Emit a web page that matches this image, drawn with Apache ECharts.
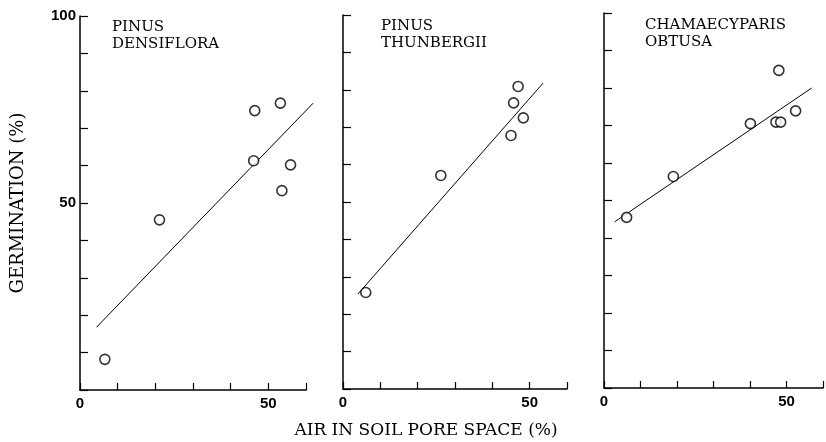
<!DOCTYPE html>
<html><head><meta charset="utf-8">
<script src="https://cdn.jsdelivr.net/npm/echarts@6/dist/echarts.min.js"></script>
<style>html,body{margin:0;padding:0;background:#fff}#c{width:826px;height:442px}</style>
</head><body><div id="c"></div>
<script>
const panelTitles = ['PINUS\nDENSIFLORA', 'PINUS\nTHUNBERGII', 'CHAMAECYPARIS\nOBTUSA'];
const densifloraX = [6.6, 21.1, 46.4, 46.1, 53.2, 53.6, 55.9];
const densifloraY = [8.2, 45.5, 74.7, 61.3, 76.7, 53.3, 60.2];
const densifloraFit = [[4.4, 16.8], [61.9, 76.7]];
const thunbergiiX = [6.1, 26.2, 45.0, 45.7, 46.9, 48.3];
const thunbergiiY = [25.8, 57.1, 67.8, 76.5, 80.9, 72.5];
const thunbergiiFit = [[4.0, 25.4], [53.6, 81.8]];
const obtusaX = [6.2, 19.0, 40.1, 47.1, 48.4, 47.9, 52.5];
const obtusaY = [45.5, 56.4, 70.5, 70.9, 70.9, 84.7, 73.9];
const obtusaFit = [[2.9, 44.3], [56.9, 80.0]];
const xTickLabels = [0, 50];
const yTickLabels = [50, 100];
const xTitle = 'AIR IN SOIL PORE SPACE (%)';
const yTitle = 'GERMINATION (%)';

const xs = [densifloraX, thunbergiiX, obtusaX];
const ys = [densifloraY, thunbergiiY, obtusaY];
const fits = [densifloraFit, thunbergiiFit, obtusaFit];
const grids = [
  {left: 80, top: 16, width: 226, height: 374},
  {left: 343, top: 15, width: 224, height: 374},
  {left: 604, top: 13, width: 225, height: 375}
];
const titlePos = [[112, 19], [381, 18], [645, 17]];
const serif = "'DejaVu Serif', 'Liberation Serif', serif";
const numFont = {fontFamily: "'Liberation Sans', sans-serif", fontWeight: 'bold', fontSize: 15, color: '#000'};

const option = {
  animation: false,
  backgroundColor: '#fff',
  grid: grids,
  title: panelTitles.map((t, i) => ({
    text: t, left: titlePos[i][0], top: titlePos[i][1], padding: 0,
    textStyle: {fontFamily: serif, fontWeight: 'normal', fontSize: 15, lineHeight: 17, color: '#000'}
  })),
  xAxis: grids.map((g, i) => ({
    type: 'value', gridIndex: i, min: 0, max: 60, interval: 10,
    axisLine: {show: true, lineStyle: {color: '#000', width: 1.5}},
    axisTick: {show: true, inside: true, length: 7, lineStyle: {color: '#000', width: 1.2}},
    splitLine: {show: false},
    axisLabel: Object.assign({margin: 6, showMaxLabel: true,
      formatter: v => xTickLabels.includes(v) ? String(v) : ''}, numFont)
  })),
  yAxis: grids.map((g, i) => ({
    type: 'value', gridIndex: i, min: 0, max: 100, interval: 10,
    axisLine: {show: true, lineStyle: {color: '#000', width: 1.5}},
    axisTick: {show: true, inside: true, length: 8, lineStyle: {color: '#000', width: 1.2}},
    splitLine: {show: false},
    axisLabel: Object.assign({show: i === 0, margin: 4,
      formatter: v => yTickLabels.includes(v) ? String(v) : ''}, numFont)
  })),
  series: [].concat(...xs.map((xv, i) => [
    {
      type: 'custom', xAxisIndex: i, yAxisIndex: i, data: [[fits[i][0][0], fits[i][0][1], fits[i][1][0], fits[i][1][1]]],
      clip: false, silent: true,
      renderItem: (params, api) => {
        const p0 = api.coord([api.value(0), api.value(1)]);
        const p1 = api.coord([api.value(2), api.value(3)]);
        return {type: 'line', shape: {x1: p0[0], y1: p0[1], x2: p1[0], y2: p1[1]},
          style: {stroke: '#000', lineWidth: 1}};
      }
    },
    {
      type: 'scatter', xAxisIndex: i, yAxisIndex: i,
      data: xv.map((x, k) => [x, ys[i][k]]),
      symbol: 'circle', symbolSize: 10, clip: false,
      itemStyle: {color: '#fff', borderColor: '#000', borderWidth: 1.6}
    }
  ])),
  graphic: [
    {type: 'text', x: 426, y: 431, style: {text: xTitle, font: "17px " + serif, fill: '#000', textAlign: 'center', textVerticalAlign: 'middle'}},
    {type: 'text', x: 18, y: 203, rotation: Math.PI / 2, style: {text: yTitle, font: "18px " + serif, fill: '#000', textAlign: 'center', textVerticalAlign: 'middle'}}
  ]
};
const chart = echarts.init(document.getElementById('c'), null, {renderer: 'canvas'});
chart.setOption(option);
</script></body></html>
